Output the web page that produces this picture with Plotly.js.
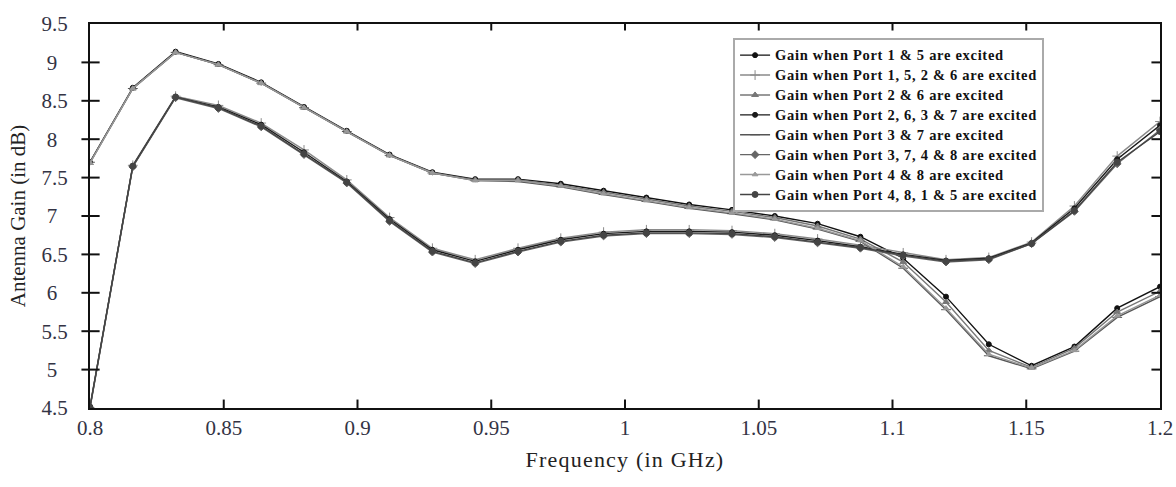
<!DOCTYPE html>
<html>
<head>
<meta charset="utf-8">
<script src="https://cdn.plot.ly/plotly-3.0.1.min.js"></script>
<style>
html,body{margin:0;padding:0;background:#fff;}
#chart{width:1176px;height:487px;}
.legendtext{font-size:14.5px !important;letter-spacing:0.7px;}
.xtitle{letter-spacing:1.2px;}
</style>
</head>
<body>
<div id="chart"></div>
<script>
const freq = [0.8, 0.816, 0.832, 0.848, 0.864, 0.88, 0.896, 0.912, 0.928, 0.944, 0.96, 0.976, 0.992, 1.008, 1.024, 1.04, 1.056, 1.072, 1.088, 1.104, 1.12, 1.136, 1.152, 1.168, 1.184, 1.2];

const seriesNames = [
  "Gain when Port 1 & 5 are excited",
  "Gain when Port 1, 5, 2 & 6 are excited",
  "Gain when Port 2 & 6 are excited",
  "Gain when Port 2, 6, 3 & 7 are excited",
  "Gain when Port 3 & 7 are excited",
  "Gain when Port 3, 7, 4 & 8 are excited",
  "Gain when Port 4 & 8 are excited",
  "Gain when Port 4, 8, 1 & 5 are excited"
];

const gainP15 = [7.70, 8.67, 9.14, 8.98, 8.74, 8.42, 8.11, 7.80, 7.57, 7.48, 7.48, 7.42, 7.33, 7.24, 7.15, 7.08, 7.00, 6.90, 6.73, 6.45, 5.95, 5.33, 5.05, 5.30, 5.80, 6.08];
const gainP1526 = [4.50, 7.66, 8.56, 8.44, 8.21, 7.86, 7.47, 6.98, 6.58, 6.43, 6.58, 6.71, 6.79, 6.82, 6.82, 6.81, 6.77, 6.70, 6.62, 6.52, 6.43, 6.46, 6.66, 7.13, 7.78, 8.23];
const gainP26 = [7.69, 8.66, 9.13, 8.97, 8.73, 8.41, 8.10, 7.79, 7.56, 7.47, 7.47, 7.40, 7.31, 7.22, 7.13, 7.06, 6.98, 6.87, 6.70, 6.40, 5.88, 5.25, 5.03, 5.28, 5.75, 6.02];
const gainP2637 = [4.52, 7.65, 8.55, 8.42, 8.19, 7.83, 7.45, 6.96, 6.56, 6.41, 6.56, 6.69, 6.77, 6.80, 6.80, 6.79, 6.75, 6.68, 6.60, 6.50, 6.42, 6.45, 6.65, 7.10, 7.74, 8.18];
const gainP37 = [7.70, 8.66, 9.13, 8.97, 8.73, 8.41, 8.10, 7.79, 7.56, 7.46, 7.45, 7.38, 7.28, 7.19, 7.10, 7.03, 6.95, 6.83, 6.67, 6.32, 5.78, 5.18, 5.01, 5.24, 5.68, 5.95];
const gainP3748 = [4.50, 7.64, 8.54, 8.40, 8.16, 7.80, 7.43, 6.93, 6.53, 6.38, 6.53, 6.66, 6.74, 6.77, 6.77, 6.76, 6.72, 6.65, 6.58, 6.48, 6.40, 6.43, 6.64, 7.06, 7.68, 8.12];
const gainP48 = [7.69, 8.66, 9.13, 8.97, 8.73, 8.41, 8.10, 7.79, 7.56, 7.46, 7.46, 7.39, 7.29, 7.20, 7.11, 7.04, 6.96, 6.84, 6.68, 6.34, 5.80, 5.20, 5.02, 5.25, 5.70, 5.97];
const gainP4815 = [4.51, 7.65, 8.55, 8.41, 8.17, 7.81, 7.44, 6.94, 6.54, 6.39, 6.54, 6.67, 6.75, 6.78, 6.78, 6.77, 6.73, 6.66, 6.59, 6.49, 6.41, 6.44, 6.64, 7.07, 7.70, 8.10];

const xTicks = [0.8, 0.85, 0.9, 0.95, 1, 1.05, 1.1, 1.15, 1.2];
const xTickText = ["0.8", "0.85", "0.9", "0.95", "1", "1.05", "1.1", "1.15", "1.2"];
const yTicks = [4.5, 5, 5.5, 6, 6.5, 7, 7.5, 8, 8.5, 9, 9.5];
const yTickText = ["4.5", "5\u2007", "5.5", "6\u2007", "6.5", "7\u2007", "7.5", "8\u2007", "8.5", "9\u2007", "9.5"];

const allGains = [gainP15, gainP1526, gainP26, gainP2637, gainP37, gainP3748, gainP48, gainP4815];
const lineColors = ["#111111", "#8a8a8a", "#777777", "#1a1a1a", "#555555", "#666666", "#999999", "#444444"];
const markerSymbols = ["circle", "cross-thin", "triangle-up", "circle", "line-ew", "diamond", "triangle-up", "circle"];
const markerSizes = [5, 7, 6, 5, 7, 6, 5, 6];

const traces = allGains.map((g, i) => ({
  x: freq, y: g, name: seriesNames[i], type: "scatter", mode: "lines+markers",
  line: {color: lineColors[i], width: 1.4},
  marker: {color: lineColors[i], symbol: markerSymbols[i], size: markerSizes[i],
           line: {color: lineColors[i], width: 1}}
}));

// tick marks as short line shapes anchored on the tick values
const tickLine = {color: "#111111", width: 2};
const tickShapes = [];
xTicks.slice(1, -1).forEach(v => {
  tickShapes.push({type: "line", xref: "x", yref: "paper", x0: v, x1: v, y0: 0, y1: 0.022, line: tickLine});
  tickShapes.push({type: "line", xref: "x", yref: "paper", x0: v, x1: v, y0: 1, y1: 0.983, line: tickLine});
});
yTicks.slice(1, -1).forEach(v => {
  tickShapes.push({type: "line", xref: "paper", yref: "y", x0: -0.008, x1: 0.009, y0: v, y1: v, line: tickLine});
  tickShapes.push({type: "line", xref: "paper", yref: "y", x0: 1, x1: 0.992, y0: v, y1: v, line: tickLine});
});

const font = "Liberation Serif, Times New Roman, serif";
const layout = {
  width: 1176, height: 487,
  margin: {l: 90, r: 16, t: 24, b: 79},
  paper_bgcolor: "#ffffff", plot_bgcolor: "#ffffff",
  showlegend: true,
  legend: {
    x: 0.601, y: 0.963, xanchor: "left", yanchor: "top",
    bgcolor: "#ffffff", bordercolor: "#aaaaaa", borderwidth: 2,
    font: {family: font, size: 13, color: "#111", weight: "bold"},
    tracegroupgap: 0
  },
  shapes: tickShapes,
  xaxis: {
    range: [0.8, 1.2], tickvals: xTicks, ticktext: xTickText,
    ticks: "", showline: true, linecolor: "#111", linewidth: 2, mirror: true,
    showgrid: false, zeroline: false,
    tickfont: {family: font, size: 21, color: "#333344"},
    title: {text: "Frequency (in GHz)", font: {family: font, size: 22, color: "#222"}, standoff: 12}
  },
  yaxis: {
    range: [4.5, 9.5], tickvals: yTicks, ticktext: yTickText,
    ticks: "", showline: true, linecolor: "#111", linewidth: 2, mirror: true,
    showgrid: false, zeroline: false,
    tickfont: {family: font, size: 21, color: "#333344"},
    ticklabelstandoff: 16,
    title: {text: "Antenna Gain (in dB)", font: {family: font, size: 21, color: "#222"}, standoff: 10}
  }
};

Plotly.newPlot("chart", traces, layout, {displayModeBar: false});
</script>
</body>
</html>
